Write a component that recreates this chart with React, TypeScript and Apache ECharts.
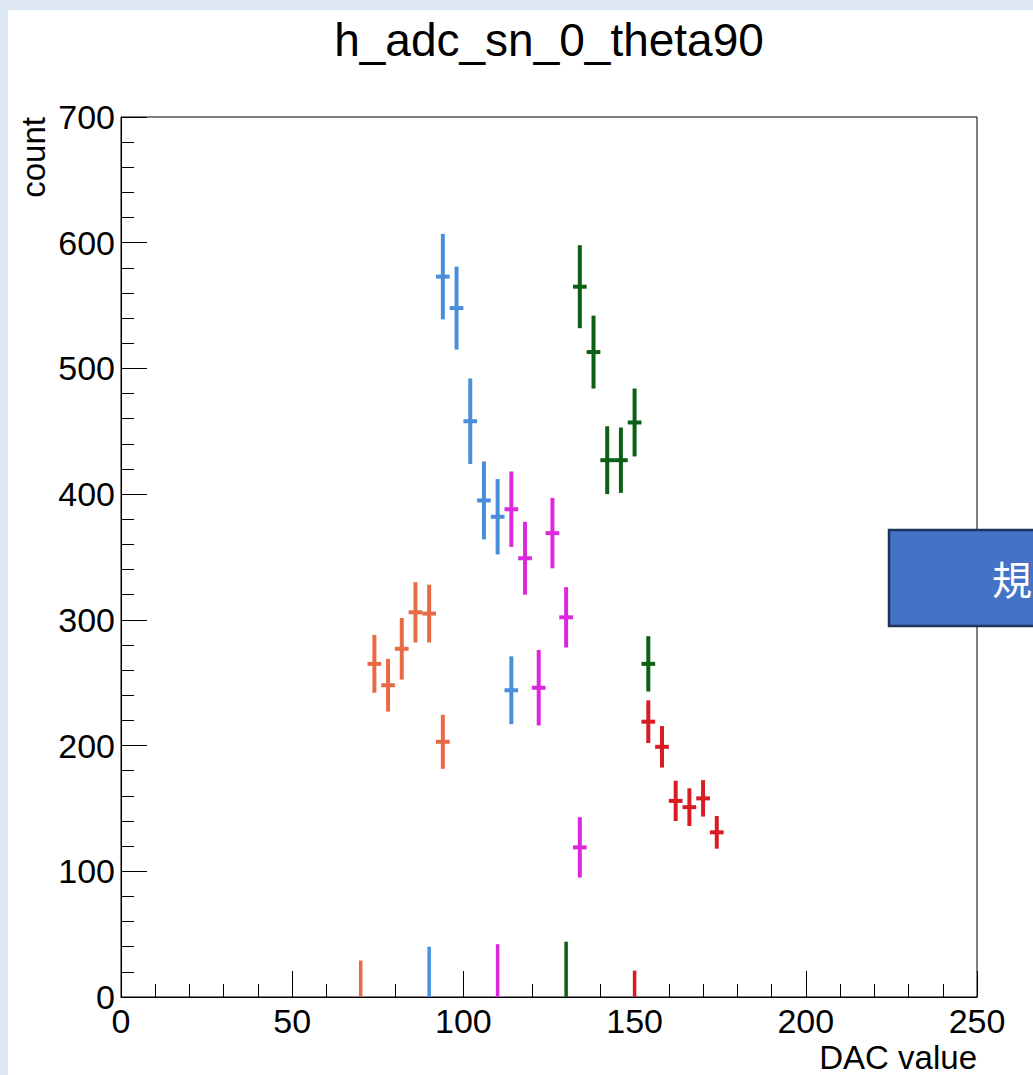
import React, { useEffect, useRef } from "react";
import * as echarts from "echarts";

// ---- data ----
const BIN_WIDTH = 4;

const orangeX = [74, 78, 82, 86, 90, 94];
const orangeY = [265, 248, 277, 306, 305, 203];
const orangeErr = [23, 21, 24.5, 24, 23, 21.5];

const blueX = [94, 98, 102, 106, 110, 114];
const blueY = [573, 548, 458, 395, 382, 244];
const blueErr = [34, 33, 34, 31, 30, 27];

const magentaX = [114, 118, 122, 126, 130, 134];
const magentaY = [388, 349, 246, 369, 302, 119];
const magentaErr = [30, 29, 30, 28, 24, 24];

const greenX = [134, 138, 142, 146, 150, 154];
const greenY = [565, 513, 427, 427, 457, 265];
const greenErr = [33, 29, 27, 26, 27, 22];

const redX = [154, 158, 162, 166, 170, 174];
const redY = [219, 199, 156, 151, 158, 131];
const redErr = [17, 16.5, 16, 15, 14.5, 13];

// bins with zero content drawn as bare error bars from the axis
const zeroBinX = [70, 90, 110, 130, 150];
const zeroBinErr = [29, 40, 42, 44, 21];

const seriesNames = ["orange", "blue", "magenta", "green", "red"];
const seriesColors = ["#e96b45", "#4a8fdb", "#dc28dc", "#0c5f14", "#d81b25"];
const seriesX = [orangeX, blueX, magentaX, greenX, redX];
const seriesY = [orangeY, blueY, magentaY, greenY, redY];
const seriesErr = [orangeErr, blueErr, magentaErr, greenErr, redErr];

const xTicks = [0, 50, 100, 150, 200, 250];
const yTicks = [0, 100, 200, 300, 400, 500, 600, 700];

const TITLE = "h_adc_sn_0_theta90";
const X_NAME = "DAC value";
const Y_NAME = "count";
const BOX_TEXT = "規";

const FONT = "'Liberation Sans', Arial, Helvetica, sans-serif";

export default function App() {
  const ref = useRef<HTMLDivElement>(null);

  useEffect(() => {
    if (!ref.current) return;
    const chart = echarts.init(ref.current, undefined, { renderer: "svg" });

    const makeRender = (color: string) => (params: any, api: any) => {
      const x = api.value(0);
      const y = api.value(1);
      const e = api.value(2);
      const top = api.coord([x, y + e]);
      const bot = api.coord([x, Math.max(0, y - e)]);
      const c = api.coord([x, y]);
      const hw = api.size([BIN_WIDTH / 2, 0])[0];
      const children: any[] = [
        {
          type: "line",
          shape: { x1: top[0], y1: top[1], x2: bot[0], y2: bot[1] },
          style: { stroke: color, lineWidth: y > 0 ? 4 : 3.5 },
        },
      ];
      if (y > 0) {
        children.push({
          type: "line",
          shape: { x1: c[0] - hw, y1: c[1], x2: c[0] + hw, y2: c[1] },
          style: { stroke: color, lineWidth: 4 },
        });
      }
      return { type: "group", children };
    };

    const series: any[] = seriesNames.map((name, i) => {
      const data = seriesX[i].map((x, j) => [x, seriesY[i][j], seriesErr[i][j]]);
      data.push([zeroBinX[i], 0, zeroBinErr[i]]);
      return {
        name,
        type: "custom",
        renderItem: makeRender(seriesColors[i]),
        data,
        encode: { x: 0, y: 1 },
        clip: true,
        z: 3,
      };
    });

    const option: any = {
      animation: false,
      backgroundColor: "transparent",
      textStyle: { fontFamily: FONT },
      grid: {
        left: 121,
        top: 117,
        right: 56,
        bottom: 78,
        show: true,
        borderColor: "#000",
        borderWidth: 1,
        backgroundColor: "transparent",
      },
      xAxis: {
        type: "value",
        min: xTicks[0],
        max: xTicks[xTicks.length - 1],
        interval: xTicks[1] - xTicks[0],
        axisLine: { show: true, onZero: false, lineStyle: { color: "#000", width: 1 } },
        axisTick: { show: true, inside: true, length: 26, lineStyle: { color: "#000", width: 1 } },
        minorTick: { show: true, splitNumber: 5, length: 13, lineStyle: { color: "#000", width: 1 } },
        splitLine: { show: false },
        axisLabel: {
          color: "#000",
          fontSize: 34,
          fontFamily: FONT,
          margin: 7,
          showMinLabel: true,
          showMaxLabel: true,
        },
      },
      yAxis: {
        type: "value",
        min: yTicks[0],
        max: yTicks[yTicks.length - 1],
        interval: yTicks[1] - yTicks[0],
        axisLine: { show: true, onZero: false, lineStyle: { color: "#000", width: 1 } },
        axisTick: { show: true, inside: true, length: 26, lineStyle: { color: "#000", width: 1 } },
        minorTick: { show: true, splitNumber: 5, length: 13, lineStyle: { color: "#000", width: 1 } },
        splitLine: { show: false },
        axisLabel: {
          color: "#000",
          fontSize: 34,
          fontFamily: FONT,
          margin: 6,
          showMinLabel: true,
          showMaxLabel: true,
        },
      },
      graphic: [
        {
          type: "rect",
          z: -100,
          silent: true,
          shape: { x: 8, y: 10, width: 1040, height: 1080 },
          style: { fill: "#ffffff" },
        },
        {
          type: "text",
          x: 549,
          y: 40,
          style: {
            text: TITLE,
            fontSize: 46,
            fontFamily: FONT,
            fill: "#000",
            textAlign: "center",
            textVerticalAlign: "middle",
          },
        },
        {
          type: "text",
          x: 33,
          y: 117,
          rotation: Math.PI / 2,
          style: {
            text: Y_NAME,
            fontSize: 33,
            fontFamily: FONT,
            fill: "#000",
            textAlign: "right",
            textVerticalAlign: "middle",
          },
        },
        {
          type: "text",
          x: 977,
          y: 1057,
          style: {
            text: X_NAME,
            fontSize: 33,
            fontFamily: FONT,
            fill: "#000",
            textAlign: "right",
            textVerticalAlign: "middle",
          },
        },
        {
          type: "rect",
          z: 100,
          shape: { x: 889, y: 530, width: 170, height: 96 },
          style: { fill: "#4472c4", stroke: "#1c335c", lineWidth: 2.5 },
        },
        {
          type: "text",
          z: 101,
          x: 992,
          y: 578,
          style: {
            text: BOX_TEXT,
            fontSize: 40,
            fontFamily: "'Noto Sans CJK JP', 'Noto Sans CJK SC', sans-serif",
            fill: "#ffffff",
            textAlign: "left",
            textVerticalAlign: "middle",
          },
        },
      ],
      series,
    };

    chart.setOption(option);
    return () => chart.dispose();
  }, []);

  return (
    <div
      style={{
        position: "fixed",
        left: 0,
        top: 0,
        width: 1033,
        height: 1075,
        background: "#dde7f3",
        overflow: "hidden",
      }}
    >
      <div ref={ref} style={{ width: 1033, height: 1075 }} />
    </div>
  );
}
